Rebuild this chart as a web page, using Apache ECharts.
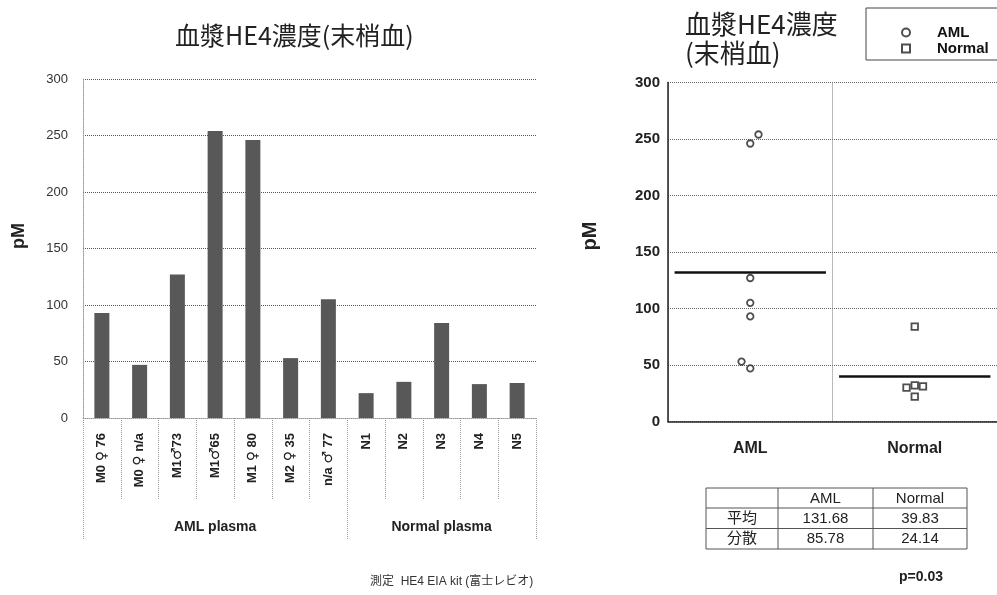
<!DOCTYPE html>
<html>
<head>
<meta charset="utf-8">
<script src="https://cdn.jsdelivr.net/npm/echarts@6/dist/echarts.min.js"></script>
<style>
html,body{margin:0;padding:0;background:#fff;}
#chart{width:997px;height:595px;}
</style>
</head>
<body>
<div id="chart"></div>
<script>
// ---- data ----
const categories = ['M0 ♀ 76', 'M0 ♀ n/a', 'M1♂73', 'M1♂65', 'M1 ♀ 80', 'M2 ♀ 35', 'n/a ♂ 77', 'N1', 'N2', 'N3', 'N4', 'N5'];
const barValues = [93, 47, 127, 254, 246, 53, 105, 22, 32, 84, 30, 31];
const groupNames = ['AML plasma', 'Normal plasma'];
const groupSizes = [7, 5];
const yMin = 0, yMax = 300, yStep = 50;

const scatterGroups = ['AML', 'Normal'];
const amlValues = [93, 47, 127, 254, 246, 53, 105];
const amlJitter = [0, 0, 0, 0.05, 0, -0.053, 0];
const normalValues = [22, 32, 84, 30, 31];
const normalJitter = [0, 0, 0, -0.05, 0.05];

const statRowLabels = ['平均', '分散'];
const meanValues = [131.68, 39.83];
const spreadValues = [85.78, 24.14];
const pText = 'p=0.03';

const leftTitle = '血漿HE4濃度(末梢血)';
const rightTitle = '血漿HE4濃度\n(末梢血)';
const footnote = '測定  HE4 EIA kit (富士レビオ)';
const yName = 'pM';

// ---- helpers ----
const groupStarts = [];
const groupLabelIdx = {};
(function(){
  let s = 0;
  groupSizes.forEach((n, g) => {
    groupStarts.push(s);
    groupLabelIdx[s + (n - 1) / 2] = groupNames[g];
    s += n;
  });
})();

const LAT = "'Liberation Sans', 'DejaVu Sans', 'Noto Sans CJK JP', sans-serif";
const CJK = "'Noto Sans CJK JP', 'Liberation Sans', sans-serif";

const chart = echarts.init(document.getElementById('chart'));

// table graphics
const tX = [706, 778, 873, 967];
const tY = [488, 508, 528.5, 549];
const tableGraphics = [];
tY.forEach(y => tableGraphics.push({type: 'line', shape: {x1: tX[0], y1: y, x2: tX[3], y2: y}, style: {stroke: '#555', lineWidth: 1}}));
tX.forEach(x => tableGraphics.push({type: 'line', shape: {x1: x, y1: tY[0], x2: x, y2: tY[3]}, style: {stroke: '#555', lineWidth: 1}}));
const cellText = (txt, col, row) => ({
  type: 'text', x: (tX[col] + tX[col + 1]) / 2, y: (tY[row] + tY[row + 1]) / 2 + 0.5,
  style: {text: txt, fontSize: 15, fontFamily: LAT, fill: '#222', align: 'center', verticalAlign: 'middle'}
});
scatterGroups.forEach((g, i) => tableGraphics.push(cellText(g, i + 1, 0)));
statRowLabels.forEach((r, i) => tableGraphics.push(cellText(r, 0, i + 1)));
meanValues.forEach((v, i) => tableGraphics.push(cellText(v.toFixed(2), i + 1, 1)));
spreadValues.forEach((v, i) => tableGraphics.push(cellText(v.toFixed(2), i + 1, 2)));

const halfMean = 0.46;

const option = {
  backgroundColor: '#fff',
  animation: false,
  title: [
    {text: leftTitle, left: 170, top: 18, textStyle: {fontFamily: CJK, fontSize: 25, fontWeight: 'normal', color: '#222'}},
    {text: rightTitle, left: 680, top: 5, textStyle: {fontFamily: CJK, fontSize: 26, fontWeight: 'normal', color: '#222', lineHeight: 29}}
  ],
  legend: {
    data: scatterGroups,
    orient: 'vertical',
    left: 866, top: 8,
    borderColor: '#444', borderWidth: 1,
    padding: [17, 20, 4, 35],
    itemGap: 1,
    itemWidth: 8, itemHeight: 8,
    textStyle: {fontFamily: LAT, fontSize: 15, fontWeight: 'bold', color: '#111', padding: [0, 0, 0, 22]}
  },
  grid: [
    {left: 83, top: 79, width: 453, height: 339},
    {left: 668, top: 82.5, width: 334, height: 339}
  ],
  xAxis: [
    {
      type: 'category', gridIndex: 0, data: categories, position: 'bottom',
      axisLine: {show: true, lineStyle: {color: '#999', type: 'dotted'}},
      axisTick: {show: true, length: 82, lineStyle: {color: '#999', type: 'dotted'}},
      axisLabel: {rotate: 90, margin: 15, interval: 0, fontFamily: LAT, fontWeight: 'bold', fontSize: 13, color: '#222',
        formatter: (v) => v.replace(/([♀♂])/g, '{s|$1}'),
        rich: {s: {fontFamily: "'DejaVu Sans'", fontWeight: 'bold', fontSize: 14, color: '#222'}}}
    },
    {
      type: 'category', gridIndex: 0, data: categories, position: 'bottom',
      axisLine: {show: false},
      axisTick: {show: true, length: 122, interval: (i) => groupStarts.indexOf(i) >= 0, lineStyle: {color: '#999', type: 'dotted'}},
      axisLabel: {interval: 0, margin: 102, formatter: (v, i) => groupLabelIdx[i] || '', fontFamily: LAT, fontWeight: 'bold', fontSize: 14, color: '#222'}
    },
    {
      type: 'category', gridIndex: 1, data: scatterGroups, position: 'bottom',
      axisLine: {show: true, onZero: false, lineStyle: {color: '#222', width: 1.5}},
      axisTick: {show: false},
      splitLine: {show: true, lineStyle: {color: '#777', type: 'dotted'}},
      axisLabel: {margin: 19, fontFamily: LAT, fontWeight: 'bold', fontSize: 16, color: '#222'}
    },
    {type: 'value', gridIndex: 1, min: -0.5, max: scatterGroups.length - 0.5, show: false}
  ],
  yAxis: [
    {
      type: 'value', gridIndex: 0, min: yMin, max: yMax, interval: yStep,
      axisLine: {show: true, onZero: false, lineStyle: {color: '#999', type: 'dotted'}},
      axisTick: {show: false},
      splitLine: {lineStyle: {color: '#555', type: 'dotted'}},
      axisLabel: {margin: 15, fontFamily: LAT, fontSize: 13, color: '#333'}
    },
    {
      type: 'value', gridIndex: 1, min: yMin, max: yMax, interval: yStep,
      axisLine: {show: true, onZero: false, lineStyle: {color: '#222', width: 1.5}},
      axisTick: {show: false},
      splitLine: {lineStyle: {color: '#666', type: 'dotted'}},
      axisLabel: {margin: 8, fontFamily: LAT, fontWeight: 'bold', fontSize: 15, color: '#222'}
    }
  ],
  series: [
    {
      type: 'bar', name: 'bars', xAxisIndex: 0, yAxisIndex: 0, data: barValues, barWidth: 15,
      itemStyle: {color: '#585858'}
    },
    {
      type: 'scatter', name: scatterGroups[0], xAxisIndex: 3, yAxisIndex: 1,
      data: amlValues.map((v, i) => [0 + amlJitter[i], v]),
      symbol: 'circle', symbolSize: 6.5,
      itemStyle: {color: '#fff', borderColor: '#222', borderWidth: 1.8},
      markLine: {silent: true, symbol: 'none', label: {show: false},
        lineStyle: {color: '#111', width: 2.5, type: 'solid'},
        data: [[{coord: [0 - halfMean, meanValues[0]]}, {coord: [0 + halfMean, meanValues[0]]}]]}
    },
    {
      type: 'scatter', name: scatterGroups[1], xAxisIndex: 3, yAxisIndex: 1,
      data: normalValues.map((v, i) => [1 + normalJitter[i], v]),
      symbol: 'rect', symbolSize: 6.5,
      itemStyle: {color: '#fff', borderColor: '#222', borderWidth: 1.8},
      markLine: {silent: true, symbol: 'none', label: {show: false},
        lineStyle: {color: '#111', width: 2.5, type: 'solid'},
        data: [[{coord: [1 - halfMean, meanValues[1]]}, {coord: [1 + halfMean, meanValues[1]]}]]}
    }
  ],
  graphic: [
    {type: 'text', x: 19, y: 236, rotation: Math.PI / 2,
      style: {text: yName, fontFamily: LAT, fontSize: 18, fontWeight: 'bold', fill: '#222', align: 'center', verticalAlign: 'middle'}},
    {type: 'text', x: 590, y: 236, rotation: Math.PI / 2,
      style: {text: yName, fontFamily: LAT, fontSize: 20, fontWeight: 'bold', fill: '#222', align: 'center', verticalAlign: 'middle'}},
    {type: 'text', x: 370, y: 582,
      style: {text: footnote, fontFamily: LAT, fontSize: 12, fill: '#333', align: 'left', verticalAlign: 'middle'}},
    {type: 'text', x: 921, y: 577,
      style: {text: pText, fontFamily: LAT, fontSize: 14, fontWeight: 'bold', fill: '#222', align: 'center', verticalAlign: 'middle'}}
  ].concat(tableGraphics)
};
chart.setOption(option);
</script>
</body>
</html>
